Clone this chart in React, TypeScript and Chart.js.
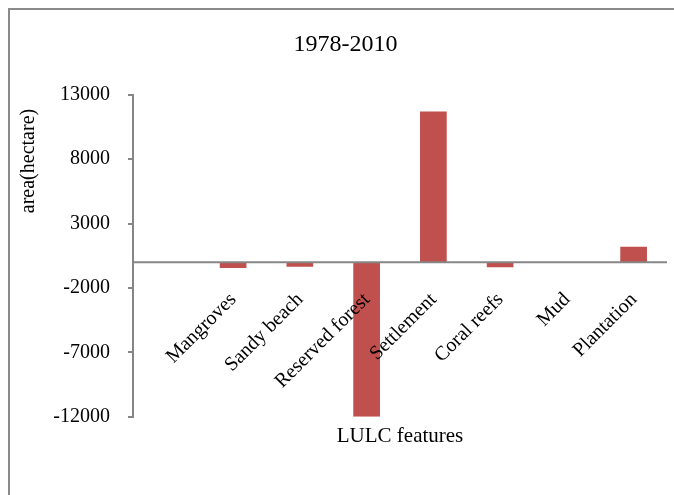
import React, { useEffect, useRef } from 'react';
import { Chart, registerables } from 'chart.js';

Chart.register(...registerables);

// ---- data ----
const categories = ['', 'Mangroves', 'Sandy beach', 'Reserved forest', 'Settlement', 'Coral reefs', 'Mud', 'Plantation'];
const areaChange = [null, -450, -350, -12000, 11700, -380, 0, 1200];
const yTicks = [-12000, -7000, -2000, 3000, 8000, 13000];
const chartTitle = '1978-2010';
const xTitle = 'LULC features';
const yTitle = 'area(hectare)';

const FONT = '"Liberation Serif", "Times New Roman", serif';
const AXIS_GRAY = '#868686';
const BAR_RED = '#C0504D';

const zeroLinePlugin = {
  id: 'zeroLine',
  afterDatasetsDraw(chart: any) {
    const { ctx, chartArea } = chart;
    const y = chart.scales.y.getPixelForValue(0);
    ctx.save();
    ctx.strokeStyle = AXIS_GRAY;
    ctx.lineWidth = 2;
    ctx.beginPath();
    ctx.moveTo(chartArea.left, y);
    ctx.lineTo(chartArea.right, y);
    ctx.stroke();
    ctx.restore();
  },
};

const textPlugin = {
  id: 'customText',
  afterDraw(chart: any) {
    const { ctx } = chart;
    const xs = chart.scales.x;
    const y0 = chart.scales.y.getPixelForValue(0);
    ctx.save();
    ctx.fillStyle = '#000';
    ctx.font = `20px ${FONT}`;
    ctx.textAlign = 'right';
    ctx.textBaseline = 'alphabetic';
    categories.forEach((label, i) => {
      if (!label) return;
      const x = xs.getPixelForValue(i);
      ctx.save();
      ctx.translate(x + 4, y0 + 38);
      ctx.rotate(-Math.PI / 4);
      ctx.fillText(label, 0, 0);
      ctx.restore();
    });
    // y-axis title (placed toward the top like the original)
    ctx.save();
    ctx.translate(29, 161);
    ctx.rotate(-Math.PI / 2);
    ctx.textAlign = 'center';
    ctx.textBaseline = 'middle';
    ctx.fillText(yTitle, 0, 0);
    ctx.restore();
    ctx.restore();
  },
};

export default function App() {
  const canvasRef = useRef<HTMLCanvasElement | null>(null);

  useEffect(() => {
    if (!canvasRef.current) return;
    const chart = new Chart(canvasRef.current, {
      type: 'bar',
      data: {
        labels: categories,
        datasets: [
          {
            label: 'area',
            data: areaChange as any,
            backgroundColor: BAR_RED,
            borderWidth: 0,
            barPercentage: 0.4,
            categoryPercentage: 1,
          },
        ],
      },
      options: {
        animation: false,
        responsive: false,
        devicePixelRatio: 1,
        layout: { padding: { top: 30, left: 24, right: 7, bottom: 46 } },
        plugins: {
          legend: { display: false },
          tooltip: { enabled: false },
          title: {
            display: true,
            text: chartTitle,
            color: '#000',
            font: { family: FONT, size: 24, weight: 'normal', lineHeight: 1.2 },
            padding: { top: 0, bottom: 36 },
          },
        },
        scales: {
          x: {
            grid: { display: false, drawTicks: false },
            border: { display: false },
            ticks: { display: false },
            title: {
              display: true,
              text: xTitle,
              color: '#000',
              font: { family: FONT, size: 21, lineHeight: 1.2 },
              padding: { top: 7, bottom: 0 },
            },
          },
          y: {
            min: -12000,
            max: 13000,
            afterBuildTicks(scale: any) {
              scale.ticks = yTicks.map((v) => ({ value: v }));
            },
            afterFit(scale: any) {
              scale.width = 109;
            },
            grid: {
              drawOnChartArea: false,
              tickLength: 5,
              tickColor: AXIS_GRAY,
              lineWidth: 2,
              color: AXIS_GRAY,
            },
            border: { display: true, color: AXIS_GRAY, width: 2 },
            ticks: {
              color: '#000',
              padding: 18,
              font: { family: FONT, size: 20 },
              callback: (v: any) => String(v),
            },
            title: { display: false },
          },
        },
      },
      plugins: [zeroLinePlugin, textPlugin],
    } as any);
    return () => chart.destroy();
  }, []);

  return (
    <div style={{ position: 'fixed', left: 0, top: 0, width: 674, height: 495, overflow: 'hidden', background: '#fff' }}>
      <div
        style={{
          position: 'absolute',
          left: 8,
          top: 8,
          width: 800,
          height: 800,
          border: '2px solid #8a8a8a',
          boxSizing: 'border-box',
        }}
      />
      <canvas
        ref={canvasRef}
        width={674}
        height={495}
        style={{ position: 'absolute', left: 0, top: 0, width: 674, height: 495 }}
      />
    </div>
  );
}
